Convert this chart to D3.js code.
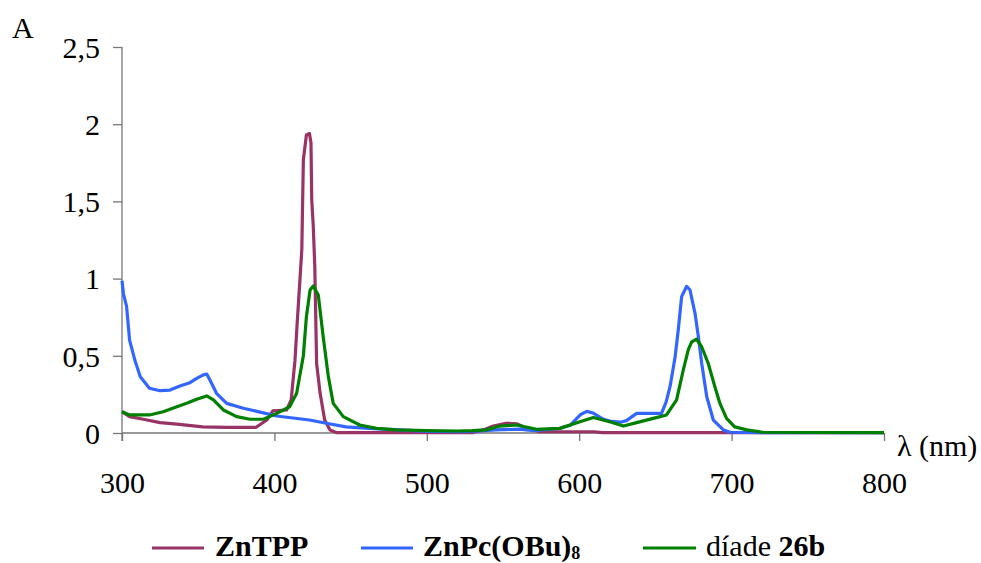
<!DOCTYPE html>
<html>
<head>
<meta charset="utf-8">
<script src="https://cdn.jsdelivr.net/npm/d3@7/dist/d3.min.js"></script>
<style>
  html, body { margin: 0; padding: 0; background: #fff; }
  svg { display: block; }
  text { font-family: "Liberation Serif", "Times New Roman", serif; fill: #000; }
</style>
</head>
<body>
<svg id="chart" width="981" height="563"></svg>
<script>
// Absorption spectra: wavelength (nm) and absorbance for each compound
const znTPPnm  = [300,305,314,325,336,353,369,388,395,399,408,411,413.5,415,417,418,419,421,423,424,424.5,425.5,426.5,427.7,430,433,436.5,441,530,537,543.6,552,559,565.6,574,610,615,800];
const znTPPabs = [0.138,0.106,0.089,0.067,0.058,0.04,0.037,0.037,0.084,0.144,0.149,0.214,0.47,0.72,1.03,1.19,1.77,1.93,1.94,1.88,1.51,1.34,1.08,0.45,0.257,0.084,0.02,0.002,0.002,0.02,0.045,0.063,0.06,0.03,0.008,0.008,0.002,0.002];

const znPcnm  = [300,301,303,305,308.5,312,318,325,331.5,338,344.6,349,353,355.6,357.7,362,368.7,379.6,390.6,401.5,423,434,447,462,482,500,521,530,545,561,570,587,594,601,605,609,615.6,621,627,631,637.7,654,657,659.6,662.9,665,667.2,670.5,672.7,676,678.2,680.4,683.7,688,694.6,699,720,800];
const znPcabs = [0.986,0.9,0.82,0.6,0.47,0.365,0.29,0.274,0.278,0.304,0.326,0.354,0.375,0.382,0.343,0.257,0.192,0.16,0.135,0.11,0.084,0.063,0.04,0.03,0.02,0.01,0.008,0.01,0.02,0.025,0.015,0.03,0.05,0.12,0.14,0.13,0.09,0.075,0.07,0.08,0.127,0.127,0.2,0.3,0.49,0.667,0.883,0.95,0.926,0.775,0.624,0.45,0.235,0.084,0.02,0.005,0.002,0.002];

const dyadnm  = [300,305,318,327,336,342.4,349,355.6,360,366.5,375.3,384,392.8,401.5,410,414.6,419,421,423.4,425.5,428.8,432,435.4,438.6,445.2,456,467,480,500,520,530,539,548,559,572,587.4,600.5,609.3,620,629,637.7,648.6,657.3,663.9,668.3,671.6,673.8,677,680.3,684.7,689,692.4,696.7,702,710,720.6,800];
const dyadabs = [0.138,0.117,0.117,0.138,0.17,0.192,0.218,0.24,0.214,0.149,0.106,0.089,0.089,0.127,0.17,0.257,0.5,0.753,0.926,0.952,0.894,0.624,0.365,0.192,0.106,0.052,0.03,0.02,0.015,0.013,0.015,0.02,0.045,0.052,0.024,0.03,0.073,0.1,0.073,0.045,0.067,0.095,0.117,0.214,0.408,0.54,0.59,0.607,0.56,0.45,0.3,0.19,0.095,0.04,0.02,0.005,0.002];

const xTicks = [300, 400, 500, 600, 700, 800];
const yTicks = [0, 0.5, 1, 1.5, 2, 2.5];
const yTickLabels = ["0", "0,5", "1", "1,5", "2", "2,5"];

const series = [
  { name: "ZnTPP",    nm: znTPPnm, abs: znTPPabs, color: "#993366" },
  { name: "ZnPc(OBu)8", nm: znPcnm, abs: znPcabs, color: "#3366FF" },
  { name: "díade 26b", nm: dyadnm, abs: dyadabs, color: "#008000" }
];

const serif = "'Liberation Serif', 'Times New Roman', serif";
const svg = d3.select("#chart");
const x = d3.scaleLinear().domain([300, 800]).range([122, 884]);
const y = d3.scaleLinear().domain([0, 2.5]).range([433, 47]);
const axisColor = "#777";

// Y axis
const yAxis = svg.append("g").attr("transform", "translate(122,0)")
  .call(d3.axisLeft(y).tickValues(yTicks).tickSize(9).tickPadding(13)
    .tickFormat((d, i) => yTickLabels[i]));
yAxis.attr("font-family", serif);
yAxis.select(".domain").attr("stroke", axisColor).attr("stroke-width", 1.3)
  .attr("d", "M0,47V441");
yAxis.selectAll(".tick line").attr("stroke", axisColor).attr("stroke-width", 1.3);
yAxis.selectAll(".tick text").attr("font-size", 30).attr("dy", "0.34em")
  .style("font-family", serif);

// X axis
const xAxis = svg.append("g").attr("transform", "translate(0,433)")
  .call(d3.axisBottom(x).tickValues(xTicks).tickSize(8).tickPadding(31)
    .tickFormat(d3.format("d")));
xAxis.attr("font-family", serif);
xAxis.select(".domain").attr("stroke", axisColor).attr("stroke-width", 1.3)
  .attr("d", "M122,0H884");
xAxis.selectAll(".tick line").attr("stroke", axisColor).attr("stroke-width", 1.3);
xAxis.selectAll(".tick text").attr("font-size", 30).attr("dy", "0.71em")
  .style("font-family", serif);

// Axis titles
svg.append("text").attr("x", 12).attr("y", 38).attr("font-size", 30).text("A");
svg.append("text").attr("x", 897).attr("y", 456).attr("font-size", 30).text("λ (nm)");

// Spectra
const line = d3.line().x(d => x(d[0])).y(d => y(d[1]));
series.forEach(s => {
  svg.append("path")
    .datum(s.nm.map((v, k) => [v, s.abs[k]]))
    .attr("fill", "none")
    .attr("stroke", s.color)
    .attr("stroke-width", 3.2)
    .attr("stroke-linejoin", "round")
    .attr("d", line);
});

// Legend
const legend = svg.append("g");
const legendItems = [
  { x1: 152, x2: 204, tx: 215, color: series[0].color },
  { x1: 361, x2: 413, tx: 423, color: series[1].color },
  { x1: 643, x2: 696, tx: 706, color: series[2].color }
];
legendItems.forEach(it => {
  legend.append("line").attr("x1", it.x1).attr("x2", it.x2)
    .attr("y1", 548).attr("y2", 548)
    .attr("stroke", it.color).attr("stroke-width", 3.2);
});
const ly = 556;
legend.append("text").attr("x", legendItems[0].tx).attr("y", ly)
  .attr("font-size", 30).attr("font-weight", "bold").text("ZnTPP");
const t2 = legend.append("text").attr("x", legendItems[1].tx).attr("y", ly)
  .attr("font-size", 30).attr("font-weight", "bold");
t2.append("tspan").text("ZnPc(OBu)");
t2.append("tspan").attr("font-size", 18).attr("dy", 3).text("8");
const t3 = legend.append("text").attr("x", legendItems[2].tx).attr("y", ly)
  .attr("font-size", 30);
t3.append("tspan").text("díade ");
t3.append("tspan").attr("font-weight", "bold").text("26b");
</script>
</body>
</html>
